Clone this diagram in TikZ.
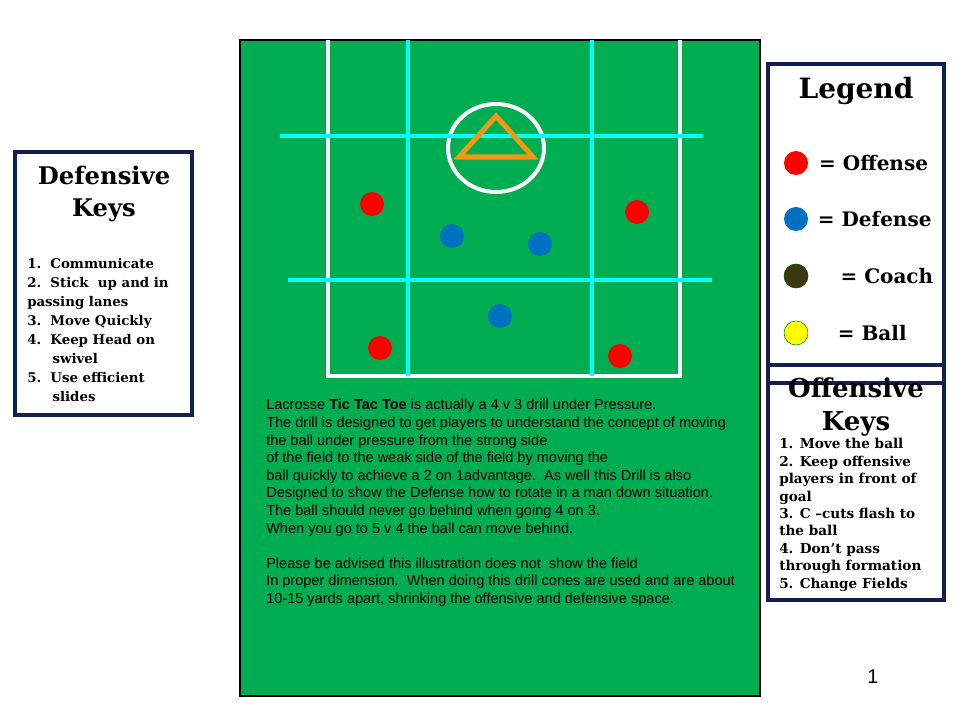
\documentclass[tikz,border=0pt]{standalone}
\usepackage{fontspec}
\setmainfont{Liberation Sans}
\newfontfamily\keyfont{DejaVu Serif}
\usetikzlibrary{positioning}
\definecolor{fieldgreen}{RGB}{0,173,80}
\definecolor{lanecyan}{RGB}{0,255,255}
\definecolor{coneorange}{RGB}{242,150,20}
\definecolor{offred}{RGB}{255,0,0}
\definecolor{defblue}{RGB}{0,112,192}
\definecolor{coachbrown}{RGB}{62,54,14}
\definecolor{ballyellow}{RGB}{255,255,0}
\definecolor{boxnavy}{RGB}{20,30,80}
\begin{document}
\begin{tikzpicture}[x=0.75pt,y=-0.75pt,
  keybox/.style={draw=boxnavy,line width=2.3pt},
  title/.style={font=\keyfont\bfseries\fontsize{18.2}{24.5}\selectfont,align=center,inner sep=0pt},
  keys/.style={font=\keyfont\bfseries\fontsize{10}{14.3}\selectfont,align=left,anchor=north west,inner sep=0pt},
  legtext/.style={font=\keyfont\bfseries\fontsize{15}{18}\selectfont,inner sep=0pt},
  player/.style={circle,minimum size=18pt,inner sep=0pt},
  offense/.style={player,fill=offred},
  defense/.style={player,fill=defblue},
  fieldline/.style={line width=2.4pt,white},
  lane/.style={line width=2.4pt,lanecyan}
]
\useasboundingbox (0,0) rectangle (960,720);
% field
\draw[fill=fieldgreen,draw=black,line width=0.8pt] (240,40) rectangle (760,696);
\draw[fieldline] (328,40) -- (328,376) -- (680,376) -- (680,40);
\draw[fieldline,line width=3pt] (496,148) ellipse [x radius=48, y radius=44];
\foreach \x in {408,592}{
  \draw[lane] (\x,40) -- (\x,376);
}
\draw[lane] (280,136) -- (703,136);
\draw[lane] (288,280) -- (712,280);
\draw[coneorange,line width=3.8pt] (496,116) -- (459,157) -- (533,157) -- cycle;
% players
\node[offense] (o1) at (372,204) {};
\node[offense] (o2) at (637,212) {};
\node[offense] (o3) at (380,348) {};
\node[offense] (o4) at (620,356) {};
\node[defense] (d1) at (452,236) {};
\node[defense] (d2) at (540,244) {};
\node[defense] (d3) at (500,316) {};
% drill text
\node[anchor=north west,align=left,inner sep=0pt,font=\fontsize{10.9}{13.2}\selectfont] (drill) at (266,399) {Lacrosse \textbf{Tic Tac Toe} is actually a 4 v 3 drill under Pressure.\\
The drill is designed to get players to understand the concept of moving\\
the ball under pressure from the strong side\\
of the field to the weak side of the field by moving the\\
ball quickly to achieve a 2 on 1advantage.\ \ As well this Drill is also\\
Designed to show the Defense how to rotate in a man down situation.\\
The ball should never go behind when going 4 on 3.\\
When you go to 5 v 4 the ball can move behind.\\[13.2pt]
Please be advised this illustration does not\ \ show the field\\
In proper dimension.\ \ When doing this drill cones are used and are about\\
10-15 yards apart, shrinking the offensive and defensive space.};
% defensive keys
\draw[keybox] (15,152) rectangle (192,415);
\node[title] (dtitle) at (104,194) {Defensive\\Keys};
\node[keys] (dkeys) at (27,258) {1.\ \ Communicate\\2.\ \ Stick\ \ up and in\\passing lanes\\3.\ \ Move Quickly\\4.\ \ Keep Head on\\\hspace*{1.9em}swivel\\5.\ \ Use efficient\\\hspace*{1.9em}slides};
% legend
\draw[keybox] (768,365) rectangle (944,600);
\draw[keybox] (768,64) rectangle (944,383);
\node[title,font=\keyfont\bfseries\fontsize{21}{24}\selectfont] (legend) at (856,91) {Legend};
\node[offense] (lo) at (796,163) {};
\node[defense] (ld) at (796,219) {};
\node[player,fill=coachbrown,draw=black!70!green,line width=0.4pt] (lc) at (796,276) {};
\node[player,fill=ballyellow,draw=black!50!green,line width=0.4pt] (lb) at (796,333) {};
\node[legtext,right=8pt of lo] (to) {= Offense};
\node[legtext,right=7pt of ld] (td) {= Defense};
\node[legtext,right=24pt of lc] (tc) {= Coach};
\node[legtext,right=22pt of lb] (tb) {= Ball};
% offensive keys
\node[title,font=\keyfont\bfseries\fontsize{19.5}{24.5}\selectfont] (otitle) at (856,407) {Offensive\\Keys};
\node[keys,font=\keyfont\bfseries\fontsize{10.2}{13.1}\selectfont] (okeys) at (779,438) {1. Move the ball\\2. Keep offensive\\players in front of\\goal\\3. C –cuts flash to\\the ball\\4. Don’t pass\\through formation\\5. Change Fields};
\node[font=\fontsize{15}{18}\selectfont] (pagenum) at (873,677) {1};
\end{tikzpicture}
\end{document}
